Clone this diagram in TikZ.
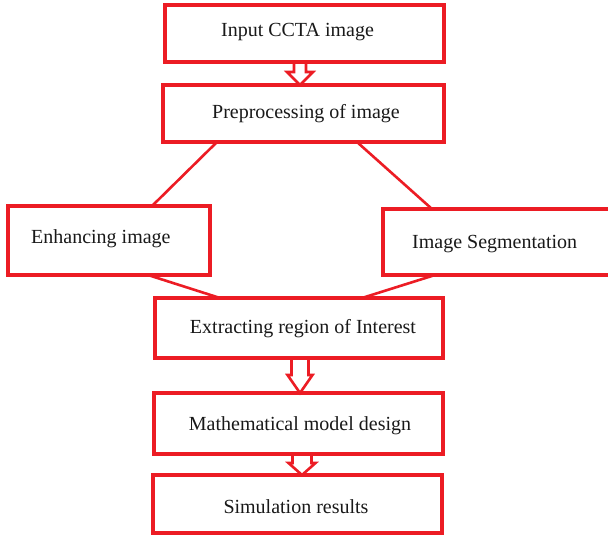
\documentclass[tikz,border=0pt]{standalone}
\usepackage{fontspec}
\setmainfont{Liberation Serif}
\usetikzlibrary{calc}
\definecolor{bred}{RGB}{236,28,36}
\newcommand\blockarr[5]{% #1 start, #2 tip, #3 shaft half width, #4 head half width, #5 head length
  \draw[arrline] let \p1=(#1), \p2=(#2) in
    (\x1-#3,\y1) -- (\x1-#3,\y2+#5) -- (\x1-#4,\y2+#5) -- (\x1,\y2)
    -- (\x1+#4,\y2+#5) -- (\x1+#3,\y2+#5) -- (\x1+#3,\y1);}
\begin{document}
\begin{tikzpicture}[x=1pt,y=1pt,
  box/.style={draw=bred, line width=3.2pt, inner sep=0pt, outer sep=0pt},
  lbl/.style={font=\fontsize{20}{24}\selectfont, text=black!90, inner sep=0pt},
  conn/.style={draw=bred, line width=2.6pt},
  arrline/.style={draw=bred, line width=2.6pt, line join=miter}]
\useasboundingbox[fill=white] (0,0) rectangle (608,-535);
% boxes
\node[box, minimum width=279pt, minimum height=57pt] (b1) at (304.5,-33.5) {};
\node[box, minimum width=281pt, minimum height=57pt] (b2) at (303.5,-113.5) {};
\node[box, minimum width=202pt, minimum height=69pt] (b3) at (109,-240.5) {};
\node[box, minimum width=232pt, minimum height=66pt] (b4) at (499,-242) {};
\node[box, minimum width=288pt, minimum height=60pt] (b5) at (299,-328) {};
\node[box, minimum width=289pt, minimum height=61pt] (b6) at (298.5,-423.5) {};
\node[box, minimum width=289pt, minimum height=58pt] (b7) at (297.5,-504) {};
% labels
\node[lbl, anchor=base] (t1) at (297.5,-37) {Input CCTA image};
\node[lbl, anchor=base] (t2) at (306,-118) {Preprocessing of image};
\node[lbl, anchor=base west] (t3) at (31,-243) {Enhancing image};
\node[lbl, anchor=base west] (t4) at (412,-248) {Image Segmentation};
\node[lbl, anchor=base] (t5) at (303,-333) {Extracting region of Interest};
\node[lbl, anchor=base] (t6) at (300,-430) {Mathematical model design};
\node[lbl, anchor=base] (t7) at (296,-513) {Simulation results};
% connectors
\draw[conn] ($(b2.south west)+(54,0)$) -- ($(b3.north west)+(144,0)$);
\draw[conn] ($(b2.south west)+(194,0)$) -- ($(b4.north west)+(49,0)$);
\draw[conn] ($(b3.south west)+(140,0)$) -- ($(b5.north west)+(65,0)$);
\draw[conn] ($(b4.south west)+(52,0)$) -- ($(b5.north west)+(207,0)$);
% block arrows
\coordinate (a1s) at ($(b1.south)+(-4.5,0)$);
\coordinate (a1e) at ($(b2.north)+(-3.5,0)$);
\blockarr{a1s}{a1e}{6pt}{13pt}{13pt}
\coordinate (a2s) at ($(b5.south)+(1,0)$);
\coordinate (a2e) at ($(b6.north)+(1.5,0)$);
\blockarr{a2s}{a2e}{8.5pt}{12.5pt}{18pt}
\coordinate (a3s) at ($(b6.south)+(3.5,0)$);
\coordinate (a3e) at ($(b7.north)+(4.5,0)$);
\blockarr{a3s}{a3e}{9.5pt}{13.5pt}{12pt}
\end{tikzpicture}
\end{document}
